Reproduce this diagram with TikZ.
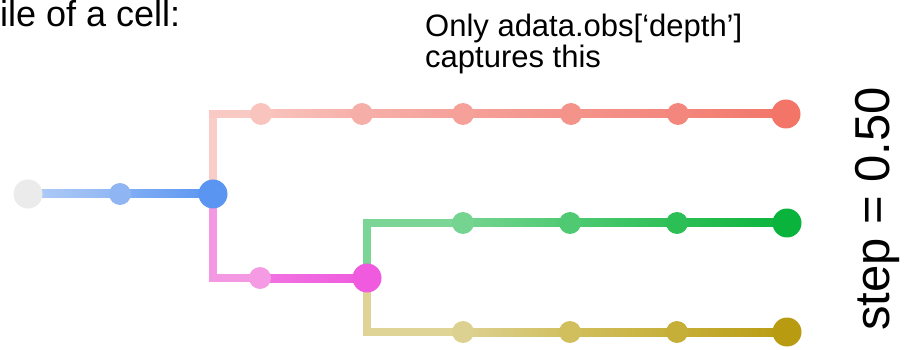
\documentclass[tikz,border=0pt]{standalone}
\usepackage{fontspec}
\setmainfont{Liberation Sans}
\usetikzlibrary{calc}
\definecolor{cgray}{HTML}{EBEBEB}
\definecolor{clb}{HTML}{8FB6F3}
\definecolor{cblue}{HTML}{5A95F2}
\definecolor{tA}{HTML}{F9C4BE}
\definecolor{tB}{HTML}{F6AFA8}
\definecolor{tC}{HTML}{F5A099}
\definecolor{tD}{HTML}{F4938A}
\definecolor{tE}{HTML}{F3877D}
\definecolor{tF}{HTML}{F27568}
\definecolor{cpink}{HTML}{F59BE3}
\definecolor{cmag}{HTML}{EF5ADF}
\definecolor{gA}{HTML}{74D490}
\definecolor{gB}{HTML}{4FCA72}
\definecolor{gC}{HTML}{2CBF56}
\definecolor{gD}{HTML}{0AB43C}
\definecolor{yA}{HTML}{DDD191}
\definecolor{yB}{HTML}{D1BF5E}
\definecolor{yC}{HTML}{C6AF38}
\definecolor{yD}{HTML}{B99B12}
\newcommand{\hsg}[4]{\shade[left color=#3, right color=#4] ($(#1)+(0,-4)$) rectangle ($(#2)+(0,4)$);}
\newcommand{\vsg}[3]{\fill[#3] ($(#1)+(-4,0)$) rectangle ($(#2)+(4,0)$);}
\tikzset{
  dot/.style={circle, inner sep=0pt, minimum size=22pt, draw=none},
  bigdot/.style={circle, inner sep=0pt, minimum size=29pt, draw=none},
  lbl/.style={inner sep=0pt, text=black}
}
\begin{document}
\begin{tikzpicture}[x=1pt, y=-1pt]
\useasboundingbox (0,0) rectangle (906,350);
% node positions
\coordinate (g0) at (28,194);
\coordinate (lb) at (120,194);
\coordinate (bl) at (213,194);
\coordinate (ct) at (213,114);
\coordinate (t1) at (261,114);
\coordinate (t2) at (362,114);
\coordinate (t3) at (463,114);
\coordinate (t4) at (571,114);
\coordinate (t5) at (678,114);
\coordinate (t6) at (786,114);
\coordinate (cp) at (213,278);
\coordinate (pk) at (260,278);
\coordinate (mg) at (367,278);
\coordinate (cg) at (367,223);
\coordinate (g1) at (463,223);
\coordinate (g2) at (570,223);
\coordinate (g3) at (677,223);
\coordinate (g4) at (787,223);
\coordinate (cy) at (367,332);
\coordinate (y1) at (463,332);
\coordinate (y2) at (570,332);
\coordinate (y3) at (677,332);
\coordinate (y4) at (787,332);
% connectors
\hsg{g0}{lb}{clb!70!white}{clb}
\hsg{lb}{bl}{clb!80!cblue}{cblue}
\vsg{ct}{bl}{tA!85!white}
\fill[tA!92!white] ($(ct)+(-4,-4)$) rectangle ($(t1)+(0,4)$);
\hsg{t1}{t2}{tA}{tB}
\hsg{t2}{t3}{tB}{tC}
\hsg{t3}{t4}{tC}{tD}
\hsg{t4}{t5}{tD}{tE}
\hsg{t5}{t6}{tE}{tF}
\vsg{bl}{cp}{cpink!95!cmag}
\fill[cpink!95!cmag] ($(cp)+(-4,4)$) rectangle ($(pk)+(0,-4)$);
\hsg{pk}{mg}{cpink!40!cmag}{cmag}
\vsg{cg}{mg}{gA!95!white}
\fill[gA!95!white] ($(cg)+(-4,-4)$) rectangle ($(g1)+(0,4)$);
\hsg{g1}{g2}{gA}{gB}
\hsg{g2}{g3}{gB}{gC}
\hsg{g3}{g4}{gC}{gD}
\vsg{mg}{cy}{yA!95!white}
\fill[yA!95!white] ($(cy)+(-4,4)$) rectangle ($(y1)+(0,-4)$);
\hsg{y1}{y2}{yA}{yB}
\hsg{y2}{y3}{yB}{yC}
\hsg{y3}{y4}{yC}{yD}
% dots
\node[bigdot, fill=cgray] (n0) at (g0) {};
\node[dot, fill=clb] (n1) at (lb) {};
\node[bigdot, fill=cblue] (n2) at (bl) {};
\node[dot, fill=tA] (nt1) at (t1) {};
\node[dot, fill=tB] (nt2) at (t2) {};
\node[dot, fill=tC] (nt3) at (t3) {};
\node[dot, fill=tD] (nt4) at (t4) {};
\node[dot, fill=tE] (nt5) at (t5) {};
\node[bigdot, fill=tF] (nt6) at (t6) {};
\node[dot, fill=cpink] (np) at (pk) {};
\node[bigdot, fill=cmag] (nm) at (mg) {};
\node[dot, fill=gA] (ng1) at (g1) {};
\node[dot, fill=gB] (ng2) at (g2) {};
\node[dot, fill=gC] (ng3) at (g3) {};
\node[bigdot, fill=gD] (ng4) at (g4) {};
\node[dot, fill=yA] (ny1) at (y1) {};
\node[dot, fill=yB] (ny2) at (y2) {};
\node[dot, fill=yC] (ny3) at (y3) {};
\node[bigdot, fill=yD] (ny4) at (y4) {};
% texts
\node[lbl, anchor=base west, font=\fontsize{36}{38}\selectfont] (title) at (0,27) {ile of a cell:};
\node[lbl, anchor=base west, font=\fontsize{31}{32}\selectfont] (note1) at (425,37) {Only adata.obs[‘depth’]};
\node[lbl, anchor=base west, font=\fontsize{31}{32}\selectfont] (note2) at (425,68) {captures this};
\node[lbl, anchor=base, rotate=90, font=\fontsize{49}{50}\selectfont] (step) at (889,209) {step = 0.50};
\end{tikzpicture}
\end{document}
